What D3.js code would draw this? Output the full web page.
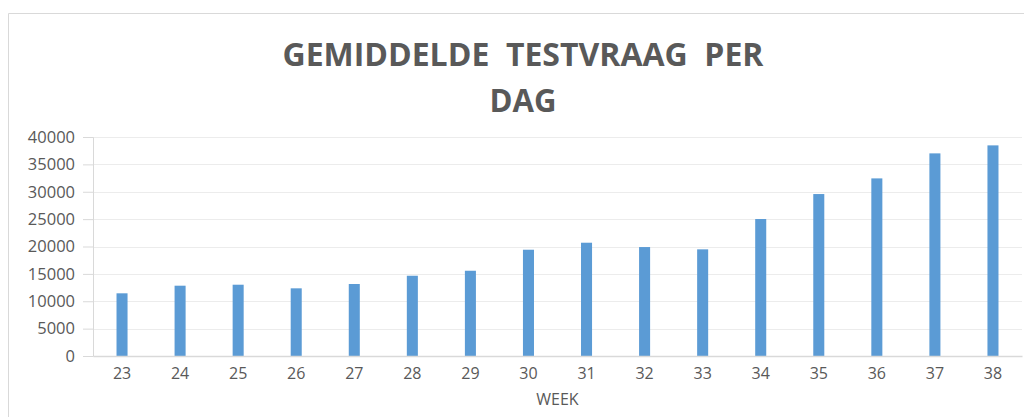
<!DOCTYPE html>
<html>
<head>
<meta charset="utf-8">
<script src="https://cdn.jsdelivr.net/npm/d3@7"></script>
<style>
  body { margin: 0; background: #fff; }
  svg { display: block; }
</style>
</head>
<body>
<svg class="chart"></svg>
<script>
// Chart data
let weeks = ['23', '24', '25', '26', '27', '28', '29', '30', '31', '32', '33', '34', '35', '36', '37', '38'];
let testvraag = [11450, 12840, 13020, 12360, 13150, 14660, 15570, 19410, 20690, 19900, 19480, 25020, 29580, 32440, 37010, 38470];
let yTicks = [0, 5000, 10000, 15000, 20000, 25000, 30000, 35000, 40000];

let width = 1024;
let height = 417;
let margin = { top: 137, right: 2, bottom: 61, left: 93 };
let plotW = width - margin.left - margin.right;
let plotH = height - margin.top - margin.bottom;
let textColor = '#595959';

let svg = d3.select('svg.chart')
  .attr('width', width)
  .attr('height', height);

//Frame border
svg.append('path')
  .attr('d', 'M8.5,' + height + 'V13.5H' + width)
  .attr('fill', 'none')
  .attr('stroke', '#d9d9d9');

//Title
let title = svg.append('g')
  .attr('font-family', 'Open Sans, sans-serif')
  .attr('font-weight', 'bold')
  .attr('font-size', 33)
  .attr('fill', textColor)
  .attr('text-anchor', 'middle');

title.append('text')
  .attr('x', 523).attr('y', 66)
  .attr('textLength', 481)
  .attr('lengthAdjust', 'spacingAndGlyphs')
  .attr('xml:space', 'preserve')
  .text('GEMIDDELDE  TESTVRAAG  PER');

title.append('text')
  .attr('x', 523).attr('y', 112)
  .attr('textLength', 67)
  .attr('lengthAdjust', 'spacingAndGlyphs')
  .text('DAG');

let graph = svg.append('g')
  .attr('transform', 'translate(' + margin.left + ',' + margin.top + ')');

//Scales
let x = d3.scaleBand().domain(weeks).range([0, plotW]).paddingInner(0.81).paddingOuter(0.405);
let y = d3.scaleLinear().domain([0, 40000]).range([plotH, 0]);

//Gridlines
graph.append('g')
  .selectAll('line')
  .data(yTicks.slice(1))
  .enter()
  .append('line')
    .attr('x1', 0).attr('x2', plotW)
    .attr('y1', d => Math.round(y(d)) + 0.5)
    .attr('y2', d => Math.round(y(d)) + 0.5)
    .attr('stroke', '#ececec');

//Y axis
let yAxis = graph.append('g')
  .call(d3.axisLeft(y).tickValues(yTicks).tickSize(10).tickPadding(8).tickFormat(d3.format('d')));
yAxis.select('.domain').attr('stroke', '#d9d9d9');
yAxis.selectAll('.tick line').attr('stroke', '#d9d9d9');
yAxis.selectAll('text')
  .attr('fill', textColor)
  .attr('font-family', 'Open Sans, sans-serif')
  .attr('font-size', 16.5);

//Bars
graph.append('g')
  .selectAll('rect')
  .data(testvraag)
  .enter()
  .append('rect')
    .attr('x', (d, i) => x(weeks[i]))
    .attr('y', d => y(d))
    .attr('width', x.bandwidth())
    .attr('height', d => plotH - y(d))
    .attr('fill', '#5b9bd5');

//X axis
let xAxis = graph.append('g')
  .attr('transform', 'translate(0,' + plotH + ')')
  .call(d3.axisBottom(x).tickSize(0).tickPadding(12));
xAxis.select('.domain').attr('stroke', '#d9d9d9').attr('stroke-width', 1.5);
xAxis.selectAll('text')
  .attr('fill', textColor)
  .attr('font-family', 'Open Sans, sans-serif')
  .attr('font-size', 16);

//X axis label
svg.append('text')
  .attr('x', margin.left + plotW / 2)
  .attr('y', 405)
  .attr('text-anchor', 'middle')
  .attr('fill', textColor)
  .attr('font-family', 'Open Sans, sans-serif')
  .attr('font-size', 16)
  .text('WEEK');
</script>
</body>
</html>
